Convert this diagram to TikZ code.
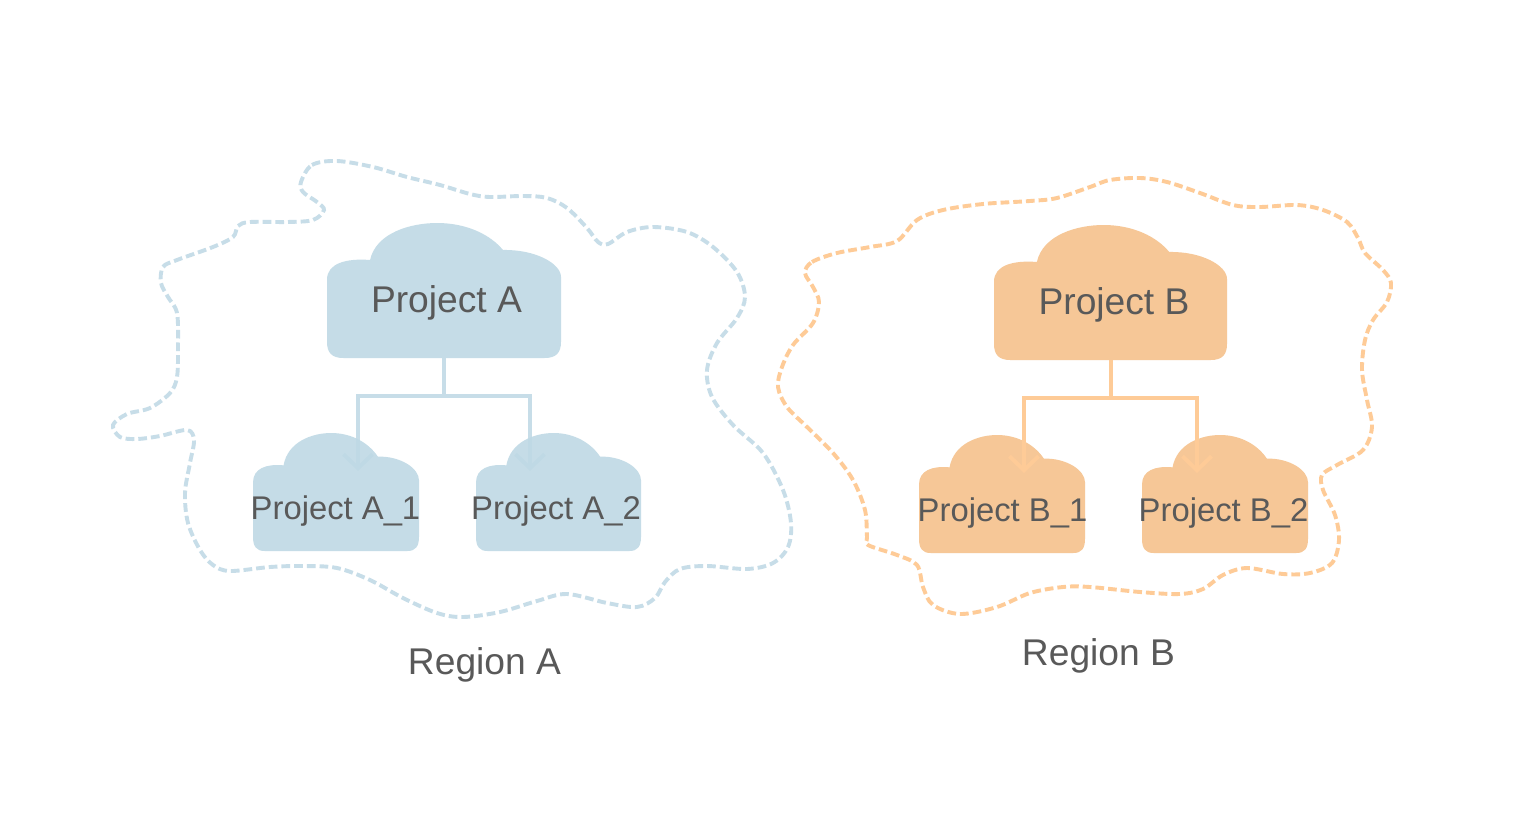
\documentclass[tikz,border=0pt]{standalone}
\usepackage{fontspec}
\setmainfont{Liberation Sans}
\usetikzlibrary{arrows.meta}
\definecolor{blueC}{HTML}{BFD9E5}
\definecolor{blueL}{HTML}{C7DDE8}
\definecolor{orC}{HTML}{F6C797}
\definecolor{orL}{HTML}{FECB97}
\definecolor{txt}{HTML}{595959}
\tikzset{
  regionline/.style={line width=3.9pt,dash pattern=on 8.7pt off 4pt,line cap=butt},
  conn/.style={line width=4pt,draw=#1,-{Straight Barb[length=14pt,width=29pt,line width=4pt]}},
  big/.style={text=txt,inner sep=0pt,font=\fontsize{37.2}{40}\selectfont},
  small/.style={text=txt,inner sep=0pt,font=\fontsize{32.8}{36}\selectfont},
  box/.style={inner sep=0pt,outer sep=0pt,anchor=north west}
}
% name, x, y, w, h, colour, fill opacity
\newcommand{\cloudat}[7]{%
  \node[box,minimum width=#4pt,minimum height=#5pt] (#1) at (#2,#3) {};
  \begin{scope}[shift={(#2,#3)},x=#4pt,y=-#5pt]
    \fill[#6,fill opacity=#7] (.184,.274) .. controls (.08,.26) and (0,.30) .. (0,.42)
      -- (0,.88) .. controls (0,.96) and (.02,1) .. (.07,1)
      -- (.93,1) .. controls (.98,1) and (1,.96) .. (1,.88)
      -- (1,.40) .. controls (1,.30) and (.89,.195) .. (.752,.2)
      .. controls (.70,.09) and (.60,0) .. (.47,0)
      .. controls (.36,0) and (.21,.07) .. (.184,.274) -- cycle;
  \end{scope}}
\begin{document}
\begin{tikzpicture}[x=1pt,y=-1pt]
\useasboundingbox (0,0) rectangle (1531,835);
\fill[white] (0,0) rectangle (1531,835);
% regions
\draw[regionline,blueL] plot[smooth cycle,tension=.55] coordinates {
(301,182) (312,165) (337,161) (373,167) (407,177) (440,185) (470,194) (490,197) (523,196) (547,198) (567,208) (587,228) (598,242) (608,244) (627,232) (653,227) (687,232) (713,247) (737,272) (745,297) (737,318) (717,343) (707,370) (712,397) (733,425) (763,453) (783,490) (791,523) (788,547) (773,563) (747,569) (707,566) (680,569) (665,582) (655,598) (637,607) (607,603) (567,594) (537,601) (500,612) (463,617) (437,613) (403,598) (370,580) (337,568) (303,566) (270,567) (230,571) (213,565) (200,550) (188,523) (185,493) (190,463) (194,440) (187,430) (160,436) (137,439) (120,437) (113,425) (127,414) (150,408) (170,393) (177,377) (178,347) (177,313) (168,297) (161,283) (163,267) (177,260) (213,247) (233,237) (238,226) (250,222) (287,222) (313,220) (324,210) (317,202) (303,192)};
\draw[regionline,orL] plot[smooth cycle,tension=.55] coordinates {
(805,273) (812,262) (837,253) (870,247) (897,241) (917,220) (943,210) (983,204) (1030,201) (1057,198) (1090,187) (1110,180) (1140,178) (1167,182) (1200,193) (1233,205) (1260,207) (1297,205) (1323,210) (1347,222) (1358,238) (1365,253) (1383,270) (1391,283) (1387,302) (1373,320) (1365,340) (1362,370) (1367,400) (1372,427) (1363,450) (1337,465) (1322,475) (1323,490) (1335,515) (1339,540) (1332,563) (1310,573) (1283,574) (1247,568) (1223,575) (1203,589) (1180,594) (1140,592) (1090,587) (1063,587) (1030,593) (997,607) (960,614) (933,605) (923,587) (917,565) (897,555) (868,545) (867,537) (865,510) (853,480) (833,453) (807,427) (787,407) (778,387) (782,367) (793,345) (813,323) (819,302) (813,287)};
% top clouds (anchors for connectors)
\cloudat{pA}{327}{223}{234}{135}{blueC}{.9}
\cloudat{pB}{994}{225}{233}{135}{orC}{1}
% junction and free ends
\coordinate (ja1) at (358,396); \coordinate (ja2) at (530,396);
\coordinate (ea1) at (358,471); \coordinate (ea2) at (530,471);
\coordinate (jb1) at (1024,398); \coordinate (jb2) at (1197,398);
\coordinate (eb1) at (1024,473); \coordinate (eb2) at (1197,473);
\draw[conn=blueL] (pA.south) |- (ja1) -- (ea1);
\draw[conn=blueL] (pA.south) |- (ja2) -- (ea2);
% small clouds
\cloudat{pA1}{253}{433}{166}{118}{blueC}{.9}
\cloudat{pA2}{476}{433}{165}{118}{blueC}{.9}
\cloudat{pB1}{919}{435}{166}{118}{orC}{1}
\cloudat{pB2}{1142}{435}{166}{118}{orC}{1}
\draw[conn=orL] (pB.south) |- (jb1) -- (eb1);
\draw[conn=orL] (pB.south) |- (jb2) -- (eb2);
% labels
\node[big] (tA) at (446.5,303) {Project A};
\node[big] (tB) at (1114,305) {Project B};
\node[small] (tA1) at (335.5,511) {Project A\_1};
\node[small] (tA2) at (556,511) {Project A\_2};
\node[small] (tB1) at (1002.5,513) {Project B\_1};
\node[small] (tB2) at (1223.5,513) {Project B\_2};
\node[big] (rA) at (484.5,665) {Region A};
\node[big] (rB) at (1098.5,656) {Region B};
\end{tikzpicture}
\end{document}
